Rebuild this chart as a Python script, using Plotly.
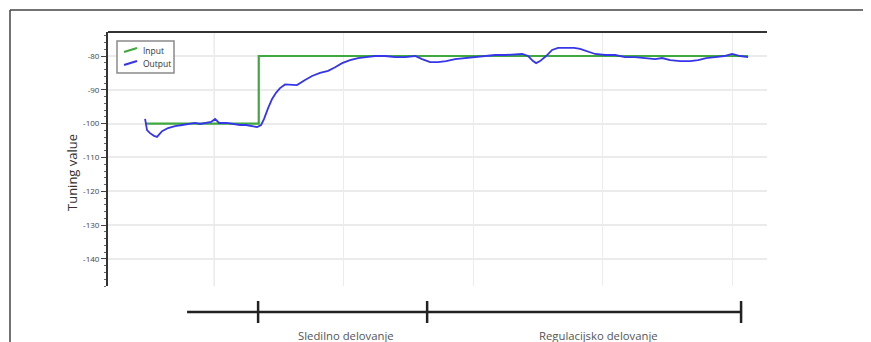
import plotly.graph_objects as go

# ---- data ----
input_x = [46.8, 134.5, 134.5, 512.0]
input_y = [-100, -100, -80, -80]

output_x = [46.8, 48.3, 50.6, 53.7, 56.0, 59.9, 64.5, 69.9, 75.3, 79.9, 85.3, 89.2, 93.8, 97.7,
            100.8, 103.9, 109.3, 114.7, 120.1, 124.7, 129.3, 133.2, 136.3, 138.6, 141.7, 144.8,
            147.8, 150.9, 154.8, 160.2, 164.0, 170.2, 175.6, 181.8, 188.0, 193.4, 198.8, 204.9,
            211.1, 217.3, 224.2, 231.9, 239.7, 247.4, 255.1, 260.5, 266.7, 272.8, 279.0, 286.0,
            293.7, 301.4, 309.1, 316.8, 324.5, 332.3, 337.7, 342.3, 346.1, 348.5, 351.5, 356.2,
            360.8, 365.4, 371.6, 377.8, 382.4, 387.8, 394.0, 401.7, 409.4, 417.1, 424.8, 432.6,
            440.3, 445.7, 451.9, 459.6, 467.3, 473.5, 479.6, 486.6, 493.5, 499.7, 505.9, 512.0]
output_y = [-98.6, -101.9, -102.8, -103.6, -103.9, -102.2, -101.3, -100.7, -100.4, -100.1, -99.8,
            -100.1, -99.8, -99.5, -98.6, -99.8, -99.8, -100.1, -100.4, -100.4, -100.7, -101.0,
            -100.4, -98.6, -95.4, -92.7, -90.9, -89.5, -88.4, -88.6, -88.6, -87.1, -85.9, -85.0,
            -84.4, -83.3, -82.1, -81.2, -80.6, -80.3, -80.0, -80.0, -80.3, -80.3, -80.0, -80.9,
            -81.8, -81.8, -81.5, -80.9, -80.6, -80.3, -80.0, -79.7, -79.7, -79.4, -79.4, -80.0,
            -81.5, -82.1, -81.5, -80.0, -78.2, -77.6, -77.6, -77.6, -77.9, -78.5, -79.4, -79.7,
            -79.7, -80.3, -80.3, -80.6, -80.9, -80.6, -81.2, -81.5, -81.5, -81.2, -80.6, -80.3,
            -80.0, -79.4, -80.0, -80.3]

series_names = ["Input", "Output"]
series_colors = ["#3fa83f", "#3535ec"]

y_tickvals = [-80, -90, -100, -110, -120, -130, -140]
y_ticktext = ["-80", "-90", "-100", "-110", "-120", "-130", "-140"]

phase_bounds = [79.2, 134.0, 264.4, 506.6]
phase_labels = ["Sledilno delovanje", "Regulacijsko delovanje"]
phase_label_x = [201.9, 396.7]

# page body has an 8px margin; the figure is sized to fill the rest of the window
OX, OY = 8, 8
W, H = 871 - OX, 342 - OY
FONT = "Open Sans"


def px(x):
    return (x - OX) / W


def py(y):
    return 1 - (y - OY) / H


fig = go.Figure()
fig.add_trace(go.Scatter(x=input_x, y=input_y, mode="lines", name=series_names[0],
                         line=dict(color=series_colors[0], width=2.2), showlegend=False))
fig.add_trace(go.Scatter(x=output_x, y=output_y, mode="lines", name=series_names[1],
                         line=dict(color=series_colors[1], width=1.8), showlegend=False))

shapes = []
# outer frame
shapes.append(dict(type="line", xref="paper", yref="paper", x0=px(10), x1=1.0,
                   y0=py(10), y1=py(10), line=dict(color="#444", width=1.5)))
shapes.append(dict(type="line", xref="paper", yref="paper", x0=px(10), x1=px(10),
                   y0=0, y1=py(10), line=dict(color="#444", width=1.5)))
# top border of plot area
shapes.append(dict(type="line", xref="x domain", yref="y domain", x0=0, x1=1, y0=1, y1=1,
                   line=dict(color="#333", width=2)))
# pinkish first vertical grid
shapes.append(dict(type="line", xref="x", yref="y domain", x0=100, x1=100, y0=0, y1=1,
                   line=dict(color="#f0dfe8", width=1), layer="below"))
# timeline at bottom
line_y = py(312)
shapes.append(dict(type="line", xref="x", yref="paper", x0=phase_bounds[0], x1=phase_bounds[-1],
                   y0=line_y, y1=line_y, line=dict(color="#222", width=2.5)))
for b in phase_bounds[1:]:
    shapes.append(dict(type="line", xref="x", yref="paper", x0=b, x1=b,
                       y0=py(301), y1=py(323), line=dict(color="#222", width=2.5)))

# custom compact legend
lx0, lx1, ly0, ly1 = px(117), px(174), py(41), py(73)
shapes.append(dict(type="rect", xref="paper", yref="paper", x0=lx0, x1=lx1, y0=ly1, y1=ly0,
                   line=dict(color="#8a8a8a", width=1.5), fillcolor="white", layer="above"))
legend_rows = [50, 63]
for name, col, ry in zip(series_names, series_colors, legend_rows):
    shapes.append(dict(type="line", xref="paper", yref="paper", x0=px(124), x1=px(137),
                       y0=py(ry + 2), y1=py(ry - 2), line=dict(color=col, width=2)))

annotations = []
for name, ry in zip(series_names, legend_rows):
    annotations.append(dict(text=name, x=px(141), y=py(ry), xref="paper", yref="paper",
                            xanchor="left", yanchor="middle", showarrow=False,
                            font=dict(family=FONT, size=8.5, color="#333")))
for lab, lx in zip(phase_labels, phase_label_x):
    annotations.append(dict(text=lab, x=lx, xref="x", y=py(335), yref="paper",
                            xanchor="center", yanchor="middle",
                            showarrow=False, font=dict(family=FONT, size=11.3, color="#555")))
annotations.append(dict(text="Tuning value", x=px(72), y=py(173), xref="paper", yref="paper",
                        xanchor="center", yanchor="middle",
                        textangle=-90, showarrow=False,
                        font=dict(family=FONT, size=13, color="#333")))

fig.update_layout(
    width=W, height=H,
    margin=dict(l=0, r=0, t=0, b=0),
    paper_bgcolor="white", plot_bgcolor="white",
    font=dict(family=FONT, color="#333"),
    showlegend=False,
    shapes=shapes,
    annotations=annotations,
    xaxis=dict(domain=[px(108), px(767)], range=[18.2, 526.6],
               showticklabels=False, ticks="", showline=False, zeroline=False,
               showgrid=True, gridcolor="#ececec", gridwidth=1, dtick=100, tick0=0),
    yaxis=dict(domain=[py(286), py(32)], range=[-148.0, -72.9],
               tickvals=y_tickvals, ticktext=y_ticktext,
               showline=True, linecolor="#333", linewidth=2,
               ticks="outside", ticklen=5, tickcolor="#444", tickwidth=1,
               minor=dict(ticks="outside", ticklen=2, dtick=2, tick0=0, tickcolor="#666",
                          showgrid=False),
               tickfont=dict(family=FONT, size=8, color="#444"),
               showgrid=True, gridcolor="#ebebeb", gridwidth=1.5, zeroline=False),
)

fig.write_html("out.html")
